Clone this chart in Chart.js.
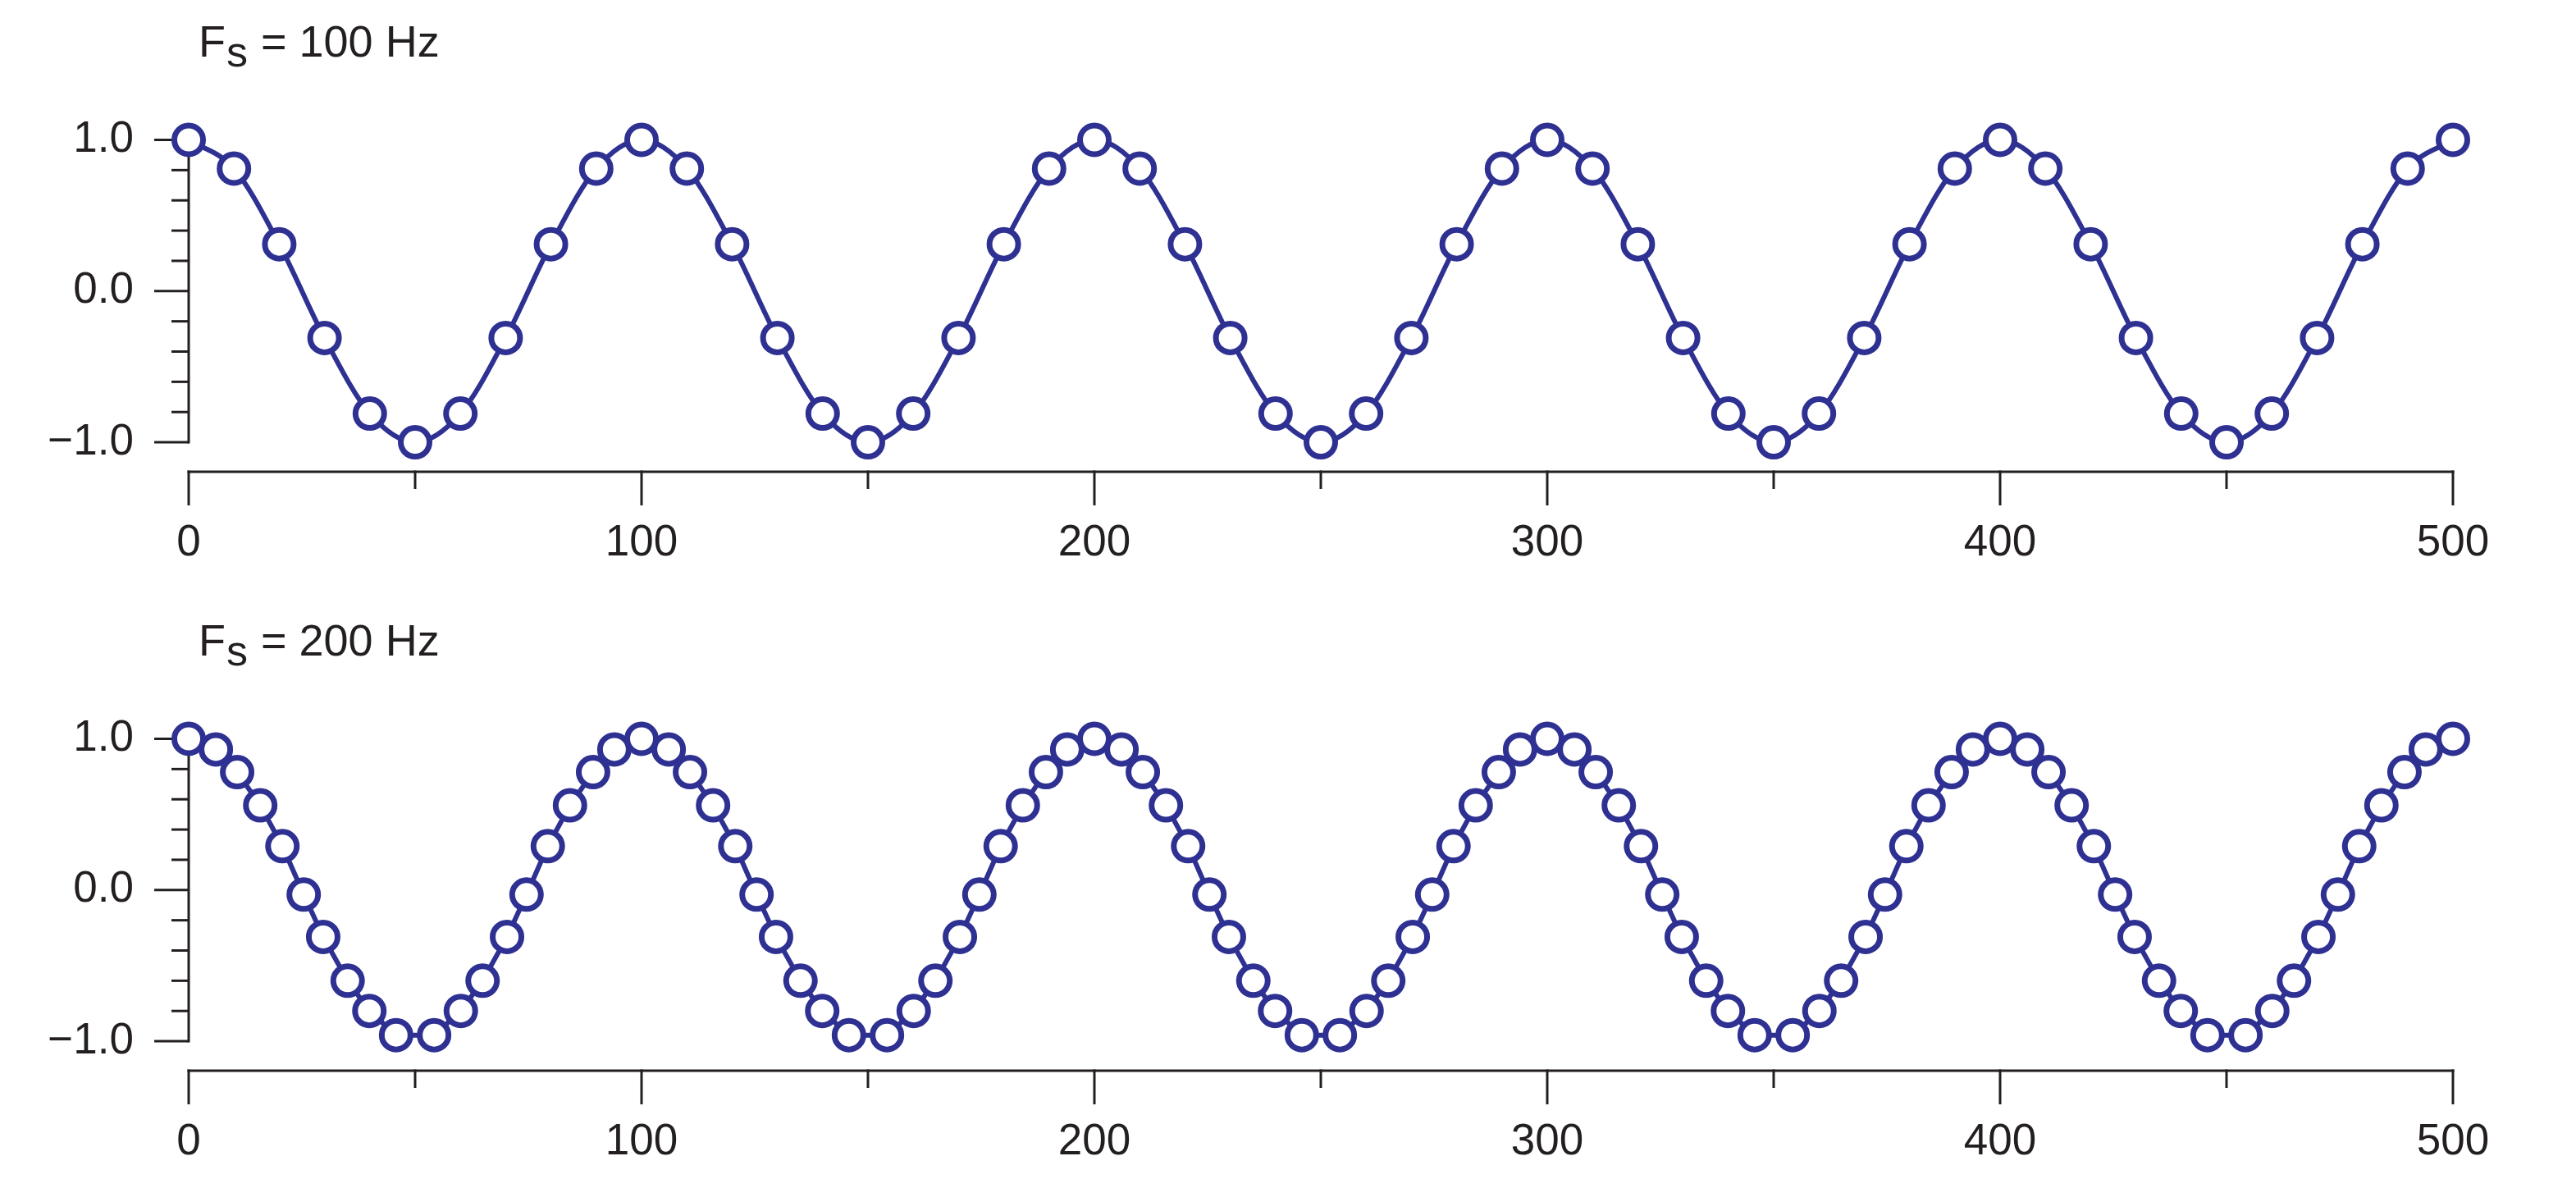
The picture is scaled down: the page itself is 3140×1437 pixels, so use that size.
<!DOCTYPE html>
<html>
<head>
<meta charset="utf-8">
<script src="https://cdn.jsdelivr.net/npm/chart.js@4.4.1/dist/chart.umd.min.js"></script>
<style>
  html, body { margin: 0; padding: 0; background: #ffffff; }
  body { width: 3140px; height: 1437px; position: relative; overflow: hidden; }
  canvas { position: absolute; left: 0; }
  #c1 { top: 0; }
  #c2 { top: 730px; }
  .title { position: absolute; left: 242px; font-family: "Liberation Sans", Arial, sans-serif;
           font-size: 54px; line-height: 54px; color: #231f20; white-space: nowrap; }
  .title .sub { font-size: 52px; position: relative; top: 12px; margin-left: 1px; margin-right: 1px; }
</style>
</head>
<body>
<div class="title" id="t1" style="top:23px;">F<span class="sub">s</span> = 100 Hz</div>
<div class="title" id="t2" style="top:753px;">F<span class="sub">s</span> = 200 Hz</div>
<canvas id="c1" width="3140" height="730"></canvas>
<canvas id="c2" width="3140" height="707"></canvas>
<script>
// ---------- data ----------
const xTickValues = [0, 100, 200, 300, 400, 500];
const xTickLabels = ['0', '100', '200', '300', '400', '500'];
const xMinorTicks = [50, 150, 250, 350, 450];
const yTickValues = [-1, 0, 1];
const yTickLabels = ['\u22121.0', '0.0', '1.0'];
const yMinorTicks = [-0.8, -0.6, -0.4, -0.2, 0.2, 0.4, 0.6, 0.8];

// Fs = 100 Hz samples
const topX = [0, 10, 20, 30, 40, 50, 60, 70, 80, 90,
              100, 110, 120, 130, 140, 150, 160, 170, 180, 190,
              200, 210, 220, 230, 240, 250, 260, 270, 280, 290,
              300, 310, 320, 330, 340, 350, 360, 370, 380, 390,
              400, 410, 420, 430, 440, 450, 460, 470, 480, 490,
              500];
const topY = [1, 0.81, 0.31, -0.31, -0.81, -1, -0.81, -0.31, 0.31, 0.81,
              1, 0.81, 0.31, -0.31, -0.81, -1, -0.81, -0.31, 0.31, 0.81,
              1, 0.81, 0.31, -0.31, -0.81, -1, -0.81, -0.31, 0.31, 0.81,
              1, 0.81, 0.31, -0.31, -0.81, -1, -0.81, -0.31, 0.31, 0.81,
              1, 0.81, 0.31, -0.31, -0.81, -1, -0.81, -0.31, 0.31, 0.81,
              1];

// Fs = 200 Hz samples
const bottomX = [0, 6, 10.7, 15.8, 20.7, 25.4, 29.7, 35.1, 39.9, 45.8, 54.2, 60.1, 64.9, 70.3, 74.6, 79.3, 84.2, 89.3, 94,
                 100, 106, 110.7, 115.8, 120.7, 125.4, 129.7, 135.1, 139.9, 145.8, 154.2, 160.1, 164.9, 170.3, 174.6, 179.3, 184.2, 189.3, 194,
                 200, 206, 210.7, 215.8, 220.7, 225.4, 229.7, 235.1, 239.9, 245.8, 254.2, 260.1, 264.9, 270.3, 274.6, 279.3, 284.2, 289.3, 294,
                 300, 306, 310.7, 315.8, 320.7, 325.4, 329.7, 335.1, 339.9, 345.8, 354.2, 360.1, 364.9, 370.3, 374.6, 379.3, 384.2, 389.3, 394,
                 400, 406, 410.7, 415.8, 420.7, 425.4, 429.7, 435.1, 439.9, 445.8, 454.2, 460.1, 464.9, 470.3, 474.6, 479.3, 484.2, 489.3, 494,
                 500];
const bottomY = [1, 0.93, 0.78, 0.56, 0.29, -0.03, -0.31, -0.6, -0.8, -0.96, -0.96, -0.8, -0.6, -0.31, -0.03, 0.29, 0.56, 0.78, 0.93,
                 1, 0.93, 0.78, 0.56, 0.29, -0.03, -0.31, -0.6, -0.8, -0.96, -0.96, -0.8, -0.6, -0.31, -0.03, 0.29, 0.56, 0.78, 0.93,
                 1, 0.93, 0.78, 0.56, 0.29, -0.03, -0.31, -0.6, -0.8, -0.96, -0.96, -0.8, -0.6, -0.31, -0.03, 0.29, 0.56, 0.78, 0.93,
                 1, 0.93, 0.78, 0.56, 0.29, -0.03, -0.31, -0.6, -0.8, -0.96, -0.96, -0.8, -0.6, -0.31, -0.03, 0.29, 0.56, 0.78, 0.93,
                 1, 0.93, 0.78, 0.56, 0.29, -0.03, -0.31, -0.6, -0.8, -0.96, -0.96, -0.8, -0.6, -0.31, -0.03, 0.29, 0.56, 0.78, 0.93,
                 1];

// ---------- style ----------
const BLUE = '#2e3192';
const AXIS = '#231f20';
const FONT = '"Liberation Sans", Arial, sans-serif';

const axesPlugin = {
  id: 'customAxes',
  beforeDatasetsDraw(chart) {
    const { ctx } = chart;
    const xs = chart.scales.x, ys = chart.scales.y;
    const x0 = xs.getPixelForValue(xTickValues[0]);
    const x1 = xs.getPixelForValue(xTickValues[xTickValues.length - 1]);
    const yTop = ys.getPixelForValue(yTickValues[yTickValues.length - 1]);
    const yBot = ys.getPixelForValue(yTickValues[0]);
    const axisY = ys.getPixelForValue(ys.min);
    const lw = 3, h = lw / 2;
    ctx.save();
    ctx.strokeStyle = AXIS;
    ctx.lineWidth = lw;
    ctx.lineCap = 'butt';
    const seg = (ax, ay, bx, by) => { ctx.beginPath(); ctx.moveTo(ax, ay); ctx.lineTo(bx, by); ctx.stroke(); };
    // y axis
    seg(x0, yTop - h, x0, yBot + h);
    yTickValues.forEach(v => { const p = ys.getPixelForValue(v); seg(x0 - 42, p, x0, p); });
    yMinorTicks.forEach(v => { const p = ys.getPixelForValue(v); seg(x0 - 21, p, x0, p); });
    // x axis
    seg(x0 - h, axisY, x1 + h, axisY);
    xTickValues.forEach(v => { const p = xs.getPixelForValue(v); seg(p, axisY - h, p, axisY + 41); });
    xMinorTicks.forEach(v => { const p = xs.getPixelForValue(v); seg(p, axisY - h, p, axisY + 21); });
    ctx.restore();
  }
};

function makeChart(id, xArr, yArr, smooth, xAxisHeight) {
  const ctx = document.getElementById(id).getContext('2d');
  return new Chart(ctx, {
    type: 'line',
    data: {
      datasets: [{
        data: xArr.map((x, i) => ({ x: x, y: yArr[i] })),
        borderColor: BLUE,
        borderWidth: 6,
        backgroundColor: '#ffffff',
        pointBackgroundColor: '#ffffff',
        pointBorderColor: BLUE,
        pointBorderWidth: 7,
        pointRadius: 17.5,
        pointStyle: 'circle',
        tension: smooth ? 0.4 : 0,
        cubicInterpolationMode: smooth ? 'monotone' : 'default',
        fill: false,
        clip: false
      }]
    },
    options: {
      responsive: false,
      devicePixelRatio: 1,
      animation: false,
      events: [],
      layout: { padding: { top: 170.5, right: 150, bottom: 0, left: 0 } },
      plugins: { legend: { display: false }, tooltip: { enabled: false }, title: { display: false } },
      scales: {
        x: {
          type: 'linear',
          min: 0, max: 500,
          grid: { display: false, drawTicks: false },
          border: { display: false },
          afterBuildTicks: s => { s.ticks = xTickValues.map(v => ({ value: v })); },
          afterFit: s => { s.height = xAxisHeight; },
          ticks: {
            padding: 56,
            color: AXIS,
            font: { family: FONT, size: 53 },
            maxRotation: 0,
            autoSkip: false,
            callback: v => { const i = xTickValues.indexOf(v); return i >= 0 ? xTickLabels[i] : ''; }
          }
        },
        y: {
          type: 'linear',
          min: -1.195, max: 1,
          grid: { display: false, drawTicks: false },
          border: { display: false },
          afterBuildTicks: s => { s.ticks = yTickValues.map(v => ({ value: v })); },
          afterFit: s => { s.width = 230; },
          ticks: {
            padding: 67,
            color: AXIS,
            font: { family: FONT, size: 53 },
            autoSkip: false,
            callback: v => { const i = yTickValues.indexOf(v); return i >= 0 ? yTickLabels[i] : ''; }
          }
        }
      }
    },
    plugins: [axesPlugin]
  });
}

makeChart('c1', topX, topY, true, 155);
makeChart('c2', bottomX, bottomY, false, 132);
</script>
</body>
</html>
